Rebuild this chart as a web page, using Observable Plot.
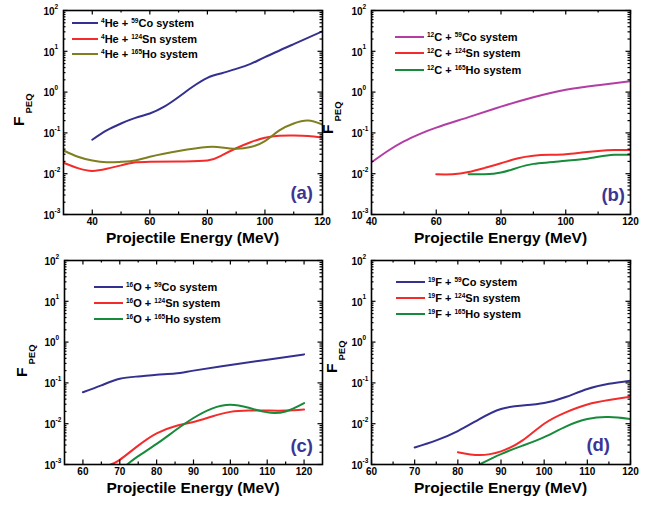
<!DOCTYPE html>
<html><head><meta charset="utf-8">
<script src="https://cdn.jsdelivr.net/npm/d3@7"></script>
<script src="https://cdn.jsdelivr.net/npm/@observablehq/plot@0.6"></script>
<style>
body{margin:0;background:#fff;}
#wrap{position:relative;width:652px;height:505px;overflow:hidden;background:#fff;}
.panel{position:absolute;}
</style></head><body><div id="wrap"></div>
<script>
// ---------- data ----------
// Panel (a): 4He projectile
const heCoE = [40,45,50,55,60,65,70,75,80,85,90,95,100,110,120];
const heCoF = [0.068,0.115,0.17,0.234,0.30,0.44,0.76,1.37,2.24,2.9,3.7,4.9,7.2,15,31];
const heSnE = [30,35,40,45,50,55,60,70,80,85,90,95,100,105,110,115,120];
const heSnF = [0.0185,0.0137,0.0117,0.0132,0.016,0.019,0.0195,0.02,0.021,0.028,0.042,0.059,0.076,0.085,0.086,0.084,0.077];
const heHoE = [30,35,40,45,50,55,60,70,80,85,90,95,100,105,110,115,120];
const heHoF = [0.037,0.026,0.021,0.019,0.0195,0.021,0.026,0.036,0.045,0.044,0.041,0.045,0.063,0.115,0.17,0.20,0.16];
// Panel (b): 12C projectile
const cCoE = [40,45,50,55,60,70,80,90,100,110,120];
const cCoF = [0.019,0.036,0.062,0.095,0.135,0.244,0.44,0.75,1.14,1.48,1.86];
const cSnE = [60,65,70,75,80,85,90,95,100,105,110,115,120];
const cSnF = [0.0097,0.0097,0.011,0.0139,0.018,0.0236,0.0275,0.029,0.030,0.033,0.036,0.038,0.038];
const cHoE = [70,75,80,85,90,95,100,105,110,115,120];
const cHoF = [0.0097,0.0097,0.0107,0.0139,0.0174,0.019,0.0208,0.0226,0.026,0.029,0.029];
// Panel (c): 16O projectile
const oCoE = [60,65,70,75,80,85,90,100,110,120];
const oCoF = [0.059,0.087,0.126,0.144,0.158,0.17,0.20,0.276,0.37,0.50];
const oSnE = [67.5,70,75,80,85,90,95,100,105,110,115,120];
const oSnF = [0.001,0.0013,0.0029,0.0058,0.0087,0.011,0.015,0.0195,0.021,0.021,0.021,0.0224];
const oHoE = [72,75,80,85,90,95,100,105,110,115,120];
const oHoF = [0.001,0.0016,0.0032,0.0068,0.0138,0.0235,0.029,0.0245,0.019,0.020,0.032];
// Panel (d): 19F projectile
const fCoE = [70,75,80,85,90,95,100,105,110,115,120];
const fCoF = [0.0026,0.0039,0.0066,0.013,0.023,0.028,0.032,0.045,0.071,0.095,0.114];
const fSnE = [80,85,90,95,100,105,110,115,120];
const fSnF = [0.0020,0.0017,0.0021,0.0039,0.010,0.019,0.0296,0.038,0.046];
const fHoE = [85,90,95,100,105,110,115,120];
const fHoF = [0.001,0.0018,0.0029,0.0047,0.0085,0.013,0.0145,0.013];

// labels / ticks
const targets = [["59","Co"],["124","Sn"],["165","Ho"]];
const projectiles = [["4","He"],["12","C"],["16","O"],["19","F"]];
const panelTags = ["(a)","(b)","(c)","(d)"];
const xTitle = "Projectile Energy (MeV)";
const yMajor = [1e-3,1e-2,1e-1,1e0,1e1,1e2];
const yExp = ["-3","-2","-1","0","1","2"];
const yMinor = [];
for (let k=-3;k<2;k++) for (let m=2;m<10;m++) yMinor.push(m*Math.pow(10,k));
const xMajorA = [40,60,80,100,120], xMinorA = [50,70,90,110];
const xMajorB = [40,60,80,100,120], xMinorB = [50,70,90,110];
const xMajorC = [60,70,80,90,100,110,120], xMinorC = [65,75,85,95,105,115];
const xMajorD = [60,70,80,90,100,110,120], xMinorD = [65,75,85,95,105,115];

// ---------- drawing ----------
const FONT = "'Liberation Sans', Arial, Helvetica, sans-serif";
const BLUE = "#33308f", RED = "#f42b2b", OLIVE = "#7f7f1f", MAG = "#b23ea4", GREEN = "#178a3b", TAG = "#3b3594";

function drawPanel(cfg){
  const W = cfg.width, H = 252, mt = 10, mb = 38;
  const fw = W - cfg.ml - cfg.mr, fh = H - mt - mb;
  const marks = [];
  cfg.series.forEach(s=>{
    marks.push(Plot.line(s.e.map((e,i)=>({e, f:s.f[i]})), {x:"e", y:"f", stroke:s.color, strokeWidth:2, curve:"natural", clip:true}));
  });
  const tk = {stroke:"#000", strokeWidth:1.2};
  marks.push(
    Plot.tickX(cfg.xMajor, {x:d=>d, insetTop:fh-4.5, ...tk}),
    Plot.tickX(cfg.xMajor, {x:d=>d, insetBottom:fh-4.5, ...tk}),
    Plot.tickX(cfg.xMinor, {x:d=>d, insetTop:fh-2.5, ...tk}),
    Plot.tickX(cfg.xMinor, {x:d=>d, insetBottom:fh-2.5, ...tk}),
    Plot.tickY(yMajor, {y:d=>d, insetRight:fw-4.5, ...tk}),
    Plot.tickY(yMajor, {y:d=>d, insetLeft:fw-4.5, ...tk}),
    Plot.tickY(yMinor, {y:d=>d, insetRight:fw-2.5, ...tk}),
    Plot.tickY(yMinor, {y:d=>d, insetLeft:fw-2.5, ...tk}),
    Plot.frame({stroke:"#000", strokeWidth:1.6}),
    Plot.axisX(cfg.xMajor, {tickSize:0, tickPadding:3, label:null, fontSize:10, fontWeight:"bold", fill:"#000"}),
    Plot.text(yMajor, {y:d=>d, text:()=>"10", frameAnchor:"left", textAnchor:"end", dx:-9, dy:1, fontSize:10, fontWeight:"bold", fill:"#000"}),
    Plot.text(yMajor, {y:d=>d, text:(d,i)=>yExp[i], frameAnchor:"left", textAnchor:"start", dx:-9, dy:-4, fontSize:6.5, fontWeight:"bold", fill:"#000"})
  );
  const svgEl = Plot.plot({
    width:W, height:H, marginLeft:cfg.ml, marginRight:cfg.mr, marginTop:mt, marginBottom:mb,
    x:{domain:cfg.xDomain, axis:null},
    y:{type:"log", domain:[1e-3,1e2], axis:null},
    style:{fontFamily:FONT, background:"transparent", overflow:"visible", color:"#000"},
    marks
  });
  const div = document.createElement("div");
  div.className = "panel";
  div.style.left = cfg.left+"px"; div.style.top = cfg.top+"px";
  div.appendChild(svgEl);
  document.getElementById("wrap").appendChild(div);

  const svg = d3.select(svgEl);
  const g = svg.append("g").attr("font-family", FONT).attr("font-weight","bold");
  // x title
  g.append("text").attr("x", cfg.ml + fw/2).attr("y", 243).attr("text-anchor","middle")
    .attr("font-size", 15.5).attr("fill","#000").text(xTitle);
  // y label
  const yl = g.append("text").attr("transform", `translate(${cfg.yl[0]},${cfg.yl[1]}) rotate(-90)`)
    .attr("text-anchor","start").attr("fill","#000");
  yl.append("tspan").attr("font-size", 15.5).text("F");
  yl.append("tspan").attr("font-size", 9.5).attr("dx", 3).attr("dy", 8).text("PEQ");
  // legend
  cfg.legend.forEach((row,i)=>{
    const y = cfg.legY[i];
    g.append("line").attr("x1", cfg.legX[0]).attr("x2", cfg.legX[1]).attr("y1", y).attr("y2", y)
      .attr("stroke", cfg.series[i].color).attr("stroke-width", 2);
    const t = g.append("text").attr("x", cfg.legX[1]+3).attr("y", y+4).attr("text-anchor","start")
      .attr("fill","#000").attr("font-size", 11);
    t.append("tspan").attr("font-size", 6.5).attr("dy", -4.5).text(row.pm);
    t.append("tspan").attr("dy", 4.5).text(row.ps + " + ");
    t.append("tspan").attr("font-size", 6.5).attr("dy", -4.5).text(row.tm);
    t.append("tspan").attr("dy", 4.5).text(row.ts + " system");
  });
  // panel tag
  g.append("text").attr("x", cfg.tag[0]).attr("y", cfg.tag[1]).attr("text-anchor","end")
    .attr("font-size", 18.5).attr("fill", TAG).text(cfg.tagText);
}

function legendRows(p){ return targets.map(t=>({pm:projectiles[p][0], ps:projectiles[p][1], tm:t[0], ts:t[1]})); }

drawPanel({left:0, top:0, width:326, ml:63, mr:4, xDomain:[30,120], xMajor:xMajorA, xMinor:xMinorA,
  series:[{e:heCoE,f:heCoF,color:BLUE},{e:heSnE,f:heSnF,color:RED},{e:heHoE,f:heHoF,color:OLIVE}],
  legend:legendRows(0), legX:[72,98], legY:[23,39,54], yl:[24,126], tag:[313,199], tagText:panelTags[0]});
drawPanel({left:316, top:0, width:336, ml:55, mr:22, xDomain:[40,120], xMajor:xMajorB, xMinor:xMinorB,
  series:[{e:cCoE,f:cCoF,color:MAG},{e:cSnE,f:cSnF,color:RED},{e:cHoE,f:cHoF,color:GREEN}],
  legend:legendRows(1), legX:[79,108], legY:[37,53,70], yl:[17,134], tag:[309,201], tagText:panelTags[1]});
drawPanel({left:0, top:250, width:326, ml:64, mr:4, xDomain:[55,125], xMajor:xMajorC, xMinor:xMinorC,
  series:[{e:oCoE,f:oCoF,color:BLUE},{e:oSnE,f:oSnF,color:RED},{e:oHoE,f:oHoF,color:GREEN}],
  legend:legendRows(2), legX:[94,123], legY:[37,53,69], yl:[27,127], tag:[313,202], tagText:panelTags[2]});
drawPanel({left:316, top:250, width:336, ml:55, mr:22, xDomain:[60,120], xMajor:xMajorD, xMinor:xMinorD,
  series:[{e:fCoE,f:fCoF,color:BLUE},{e:fSnE,f:fSnF,color:RED},{e:fHoE,f:fHoF,color:GREEN}],
  legend:legendRows(3), legX:[80,109], legY:[32,48,64], yl:[21,123], tag:[294,201], tagText:panelTags[3]});
</script></body></html>
